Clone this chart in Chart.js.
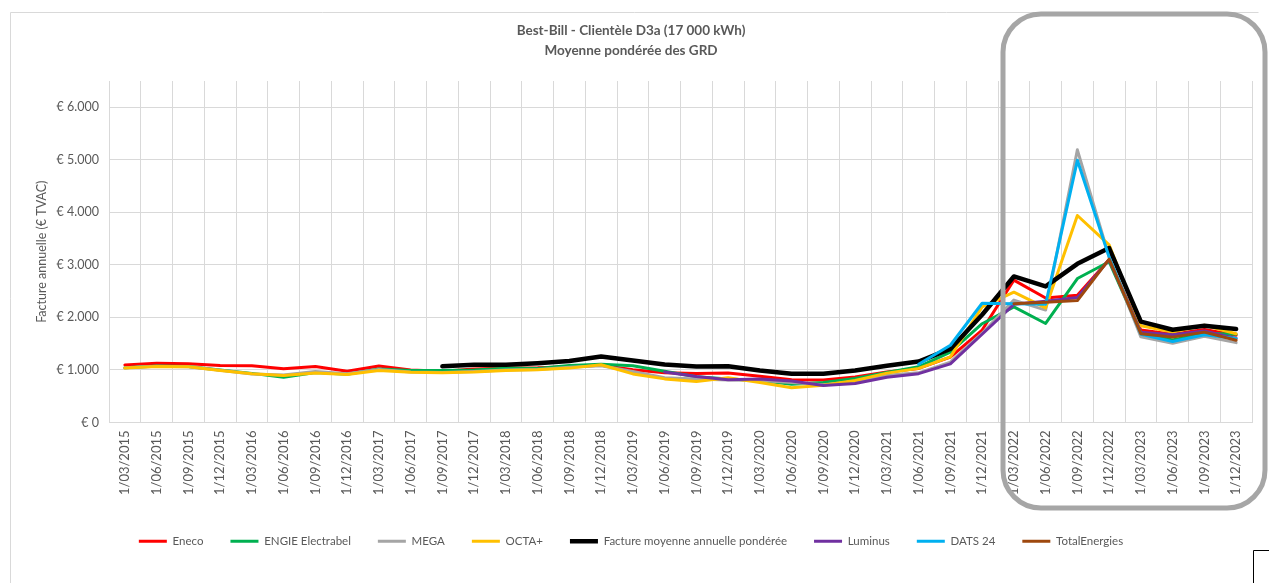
<!DOCTYPE html>
<html>
<head>
<meta charset="utf-8">
<script src="https://cdn.jsdelivr.net/npm/chart.js@4.4.1/dist/chart.umd.min.js"></script>
<style>
  html, body { margin: 0; padding: 0; background: #ffffff; }
  #wrap { position: relative; width: 1269px; height: 583px; }
</style>
</head>
<body>
<div id="wrap"><canvas id="c" width="1269" height="583"></canvas></div>
<script>
const categories = [
  '1/03/2015','1/06/2015','1/09/2015','1/12/2015',
  '1/03/2016','1/06/2016','1/09/2016','1/12/2016',
  '1/03/2017','1/06/2017','1/09/2017','1/12/2017',
  '1/03/2018','1/06/2018','1/09/2018','1/12/2018',
  '1/03/2019','1/06/2019','1/09/2019','1/12/2019',
  '1/03/2020','1/06/2020','1/09/2020','1/12/2020',
  '1/03/2021','1/06/2021','1/09/2021','1/12/2021',
  '1/03/2022','1/06/2022','1/09/2022','1/12/2022',
  '1/03/2023','1/06/2023','1/09/2023','1/12/2023'
];

const eneco = [1095,1130,1120,1085,1080,1025,1065,975,1075,1000,975,1020,1035,1040,1060,1090,1005,945,935,940,880,815,810,865,960,1030,1245,1760,2710,2370,2420,3100,1760,1680,1770,1660];
const engie = [1040,1075,1065,1000,935,860,950,920,1020,990,990,1000,1035,1030,1085,1110,1080,975,870,830,800,730,760,840,950,1060,1340,1880,2200,1885,2740,3060,1700,1570,1700,1680];
const mega = [1040,1070,1060,995,925,905,970,930,1010,960,950,970,1000,1010,1050,1080,970,850,830,810,800,760,720,780,900,945,1150,1700,2330,2140,5190,3150,1630,1510,1640,1520];
const octa = [1035,1065,1060,990,930,895,940,915,990,958,945,960,990,1005,1035,1100,925,830,780,850,760,660,710,800,940,1030,1250,2200,2480,2180,3940,3380,1840,1720,1850,1690];
const facture = [null,null,null,null,null,null,null,null,null,null,1070,1100,1100,1130,1170,1255,1180,1105,1065,1070,990,930,930,990,1080,1160,1400,2050,2780,2590,3020,3320,1920,1765,1840,1780];
const luminus = [null,null,null,null,null,null,null,null,null,null,null,null,null,null,null,null,null,960,876,813,830,790,705,743,863,930,1117,1680,2250,2310,2380,3100,1720,1670,1740,1600];
const dats = [null,null,null,null,null,null,null,null,null,null,null,null,null,null,null,null,null,null,null,null,null,null,null,null,null,1110,1470,2270,2260,2250,4990,3150,1680,1540,1670,1600];
const total = [null,null,null,null,null,null,null,null,null,null,null,null,null,null,null,null,null,null,null,null,null,null,null,null,null,null,null,null,2260,2290,2320,3110,1690,1625,1720,1565];

const seriesNames = ['Eneco','ENGIE Electrabel','MEGA','OCTA+','Facture moyenne annuelle pondérée','Luminus','DATS 24','TotalEnergies'];
const seriesValues = [eneco, engie, mega, octa, facture, luminus, dats, total];
const seriesColors = ['#FF0000','#00B050','#A5A5A5','#FFC000','#000000','#7030A0','#00B0F0','#9E480E'];
const seriesWidths = [3,3,3,3,4.5,3,3,3];

const yTickValues = [0,1000,2000,3000,4000,5000,6000];
const yTickLabels = ['€ 0','€ 1.000','€ 2.000','€ 3.000','€ 4.000','€ 5.000','€ 6.000'];

const titleLines = ['Best-Bill - Clientèle D3a (17 000 kWh)','Moyenne pondérée des GRD'];
const yTitle = 'Facture annuelle (€ TVAC)';

const FONT = 'Lato, "Open Sans", sans-serif';
const TXT = '#595959';

const decor = {
  id: 'decor',
  beforeDraw(chart) {
    const ctx = chart.ctx;
    ctx.save();
    ctx.fillStyle = '#ffffff';
    ctx.fillRect(0, 0, chart.width, chart.height);
    ctx.strokeStyle = '#D9D9D9';
    ctx.lineWidth = 1;
    ctx.beginPath();
    ctx.moveTo(10.5, 600);
    ctx.lineTo(10.5, 12.5);
    ctx.lineTo(1258.5, 12.5);
    ctx.stroke();
    ctx.restore();
  },
  afterDraw(chart) {
    const ctx = chart.ctx;
    ctx.save();
    ctx.strokeStyle = '#A6A6A6';
    ctx.lineWidth = 5;
    const x = 1003, y = 14, w = 262, h = 494, r = 38;
    ctx.beginPath();
    ctx.moveTo(x + r, y);
    ctx.lineTo(x + w - r, y);
    ctx.arcTo(x + w, y, x + w, y + r, r);
    ctx.lineTo(x + w, y + h - r);
    ctx.arcTo(x + w, y + h, x + w - r, y + h, r);
    ctx.lineTo(x + r, y + h);
    ctx.arcTo(x, y + h, x, y + h - r, r);
    ctx.lineTo(x, y + r);
    ctx.arcTo(x, y, x + r, y, r);
    ctx.closePath();
    ctx.stroke();
    ctx.strokeStyle = '#000000';
    ctx.lineWidth = 1;
    ctx.beginPath();
    ctx.moveTo(1253.5, 590);
    ctx.lineTo(1253.5, 550.5);
    ctx.lineTo(1275, 550.5);
    ctx.stroke();
    ctx.restore();
  }
};

const datasets = seriesNames.map((name, i) => ({
  label: name,
  data: seriesValues[i],
  borderColor: seriesColors[i],
  backgroundColor: seriesColors[i],
  borderWidth: seriesWidths[i],
  pointRadius: 0,
  pointHoverRadius: 0,
  tension: 0,
  spanGaps: false,
  borderCapStyle: 'round',
  borderJoinStyle: 'round',
  order: seriesNames.length - i
}));

new Chart(document.getElementById('c'), {
  type: 'line',
  data: { labels: categories, datasets },
  plugins: [decor],
  options: {
    responsive: false,
    animation: false,
    events: [],
    layout: { padding: { left: 10, right: 17, top: 0, bottom: 26 } },
    plugins: {
      tooltip: { enabled: false },
      title: {
        display: true,
        text: titleLines,
        color: TXT,
        font: { family: FONT, size: 13.5, weight: 'bold', lineHeight: 20 / 13.5 },
        padding: { top: 21, bottom: 20 }
      },
      legend: {
        display: true,
        position: 'bottom',
        labels: {
          sort: (a, b) => a.datasetIndex - b.datasetIndex,
          usePointStyle: true,
          pointStyle: 'line',
          pointStyleWidth: 28,
          boxHeight: 11,
          padding: 27,
          color: TXT,
          font: { family: FONT, size: 11.5 }
        }
      }
    },
    scales: {
      x: {
        type: 'category',
        offset: true,
        grid: { display: true, offset: true, color: '#D9D9D9', lineWidth: 1, drawTicks: false },
        border: { display: true, color: '#D9D9D9' },
        ticks: {
          color: TXT,
          font: { family: FONT, size: 13 },
          minRotation: 90,
          maxRotation: 90,
          autoSkip: false,
          padding: 8
        },
        afterFit(scale) { scale.height = 86; }
      },
      y: {
        type: 'linear',
        min: 0,
        max: 6500,
        grid: { display: true, color: '#D9D9D9', lineWidth: 1, drawTicks: false },
        border: { display: false },
        afterBuildTicks(scale) {
          scale.ticks = yTickValues.map(v => ({ value: v }));
        },
        ticks: {
          color: TXT,
          font: { family: FONT, size: 12.5 },
          padding: 10,
          callback: (v) => {
            const k = yTickValues.indexOf(v);
            return k >= 0 ? yTickLabels[k] : '';
          }
        },
        title: {
          display: true,
          text: yTitle,
          color: TXT,
          font: { family: FONT, size: 12.5 },
          padding: { top: 24, bottom: 0 }
        },
        afterFit(scale) { scale.width = 99; }
      }
    }
  }
});
</script>
</body>
</html>
